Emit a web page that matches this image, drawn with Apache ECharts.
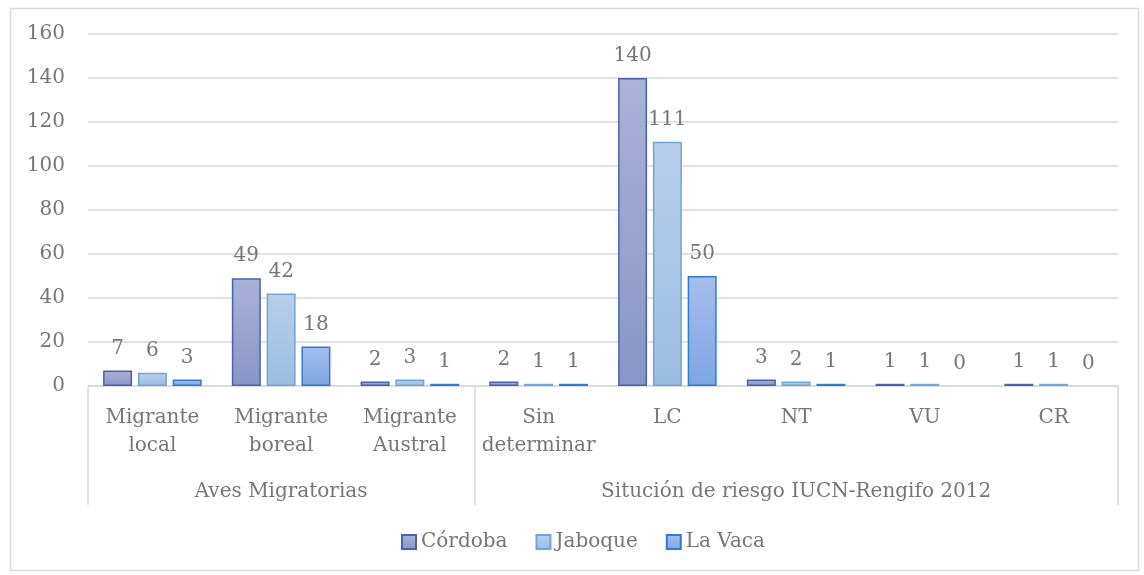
<!DOCTYPE html>
<html>
<head>
<meta charset="utf-8">
<script src="https://cdn.jsdelivr.net/npm/echarts@6/dist/echarts.min.js"></script>
<style>
  html, body { margin: 0; padding: 0; background: #fff; }
  #chart { width: 1144px; height: 575px; }
</style>
</head>
<body>
<div id="chart"></div>
<script>
// Categories (first level) and their groups (second level)
const categories = ['Migrante\nlocal', 'Migrante\nboreal', 'Migrante\nAustral',
  'Sin\ndeterminar', 'LC', 'NT', 'VU', 'CR'];
const groupNames = ['Aves Migratorias', 'Situción de riesgo IUCN-Rengifo 2012'];
const groupSizes = [3, 5];

// Species counts per wetland
const cordoba = [7, 49, 2, 2, 140, 3, 1, 1];
const jaboque = [6, 42, 3, 1, 111, 2, 1, 1];
const laVaca  = [3, 18, 1, 1, 50, 1, 0, 0];

const yTicks = { min: 0, max: 160, interval: 20 };

const FONT = 'DejaVu Serif';
const TEXT = '#767676';
const LINE = '#d9d9d9';

// Second-level axis: one label centred in each group, boundary ticks between groups
const groupLabels = categories.map(() => '');
const groupStarts = new Set();
let start = 0;
groupSizes.forEach((n, g) => {
  groupStarts.add(start);
  groupLabels[start + Math.floor(n / 2)] = groupNames[g];
  start += n;
});

function grad(top, bottom) {
  return new echarts.graphic.LinearGradient(0, 0, 0, 1, [
    { offset: 0, color: top },
    { offset: 1, color: bottom }
  ]);
}

const seriesDefs = [
  { name: 'Córdoba', data: cordoba, fill: grad('#a9b2d8', '#8796c8'), border: '#4763ad' },
  { name: 'Jaboque', data: jaboque, fill: grad('#b8cfea', '#9bbde1'), border: '#6ea6d8' },
  { name: 'La Vaca', data: laVaca,  fill: grad('#a6bdeb', '#7ca6e5'), border: '#2f7bd4' }
];

const chart = echarts.init(document.getElementById('chart'));
chart.setOption({
  animation: false,
  textStyle: { fontFamily: FONT },
  graphic: [{
    type: 'rect',
    left: 8, top: 6,
    shape: { width: 1128, height: 562 },
    style: { fill: 'none', stroke: LINE, lineWidth: 1.5 },
    silent: true
  }],
  grid: { left: 88, right: 26, top: 34, bottom: 189 },
  legend: {
    bottom: 18,
    left: 396,
    icon: 'rect',
    itemWidth: 14,
    itemHeight: 14,
    itemGap: 28,
    textStyle: { fontFamily: FONT, fontSize: 20, color: TEXT },
    data: seriesDefs.map(s => s.name)
  },
  xAxis: [{
    type: 'category',
    data: categories,
    axisLine: { lineStyle: { color: LINE, width: 1.5 } },
    axisTick: { show: false },
    axisLabel: { color: TEXT, fontSize: 20, fontFamily: FONT, lineHeight: 28, margin: 18, interval: 0 }
  }, {
    type: 'category',
    data: groupLabels,
    position: 'bottom',
    axisLine: { show: false },
    axisTick: {
      show: true,
      length: 119,
      interval: (idx) => groupStarts.has(idx),
      lineStyle: { color: LINE, width: 1.5 }
    },
    axisLabel: { color: TEXT, fontSize: 20, fontFamily: FONT, lineHeight: 28, margin: 92, interval: 0 }
  }],
  yAxis: {
    type: 'value',
    min: yTicks.min, max: yTicks.max, interval: yTicks.interval,
    axisLine: { show: false },
    axisTick: { show: false },
    axisLabel: { color: TEXT, fontSize: 20, fontFamily: FONT, margin: 23 },
    splitLine: { lineStyle: { color: LINE, width: 1.5 } }
  },
  series: seriesDefs.map(s => ({
    name: s.name,
    type: 'bar',
    xAxisIndex: 0,
    barWidth: 29,
    barGap: '20%',
    itemStyle: { color: s.fill, borderColor: s.border, borderWidth: 1.5 },
    label: {
      show: true,
      position: 'top',
      distance: 12,
      color: TEXT,
      fontSize: 20,
      fontFamily: FONT
    },
    data: s.data.map(v => v === 0 ? { value: v, itemStyle: { borderWidth: 0 } } : v)
  }))
});
</script>
</body>
</html>
